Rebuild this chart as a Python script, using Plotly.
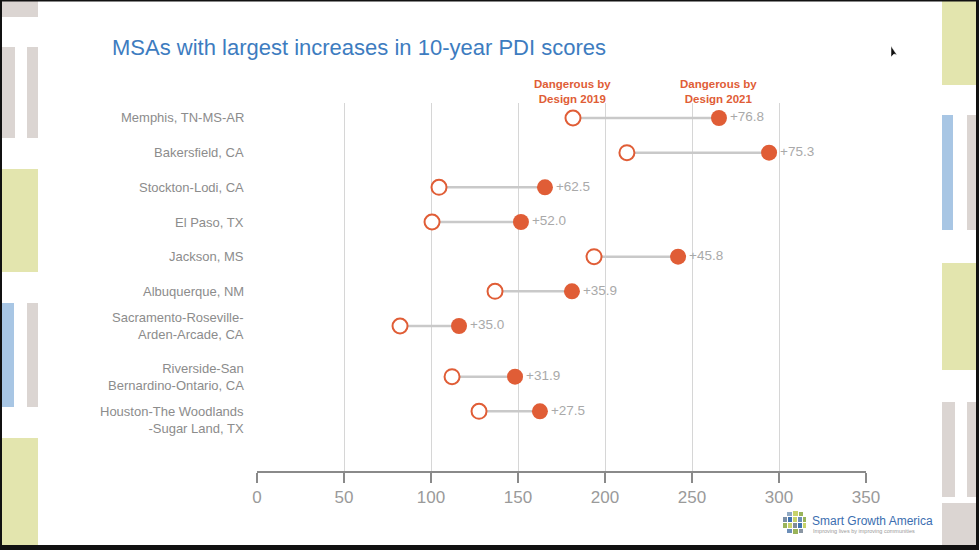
import plotly.graph_objects as go

# ---------------- data ----------------
metros = [
    "Memphis, TN-MS-AR",
    "Bakersfield, CA",
    "Stockton-Lodi, CA",
    "El Paso, TX",
    "Jackson, MS",
    "Albuquerque, NM",
    "Sacramento-Roseville-<br>Arden-Arcade, CA",
    "Riverside-San<br>Bernardino-Ontario, CA",
    "Houston-The Woodlands<br>-Sugar Land, TX",
]
pdi_2019 = [181.6, 212.6, 104.6, 100.6, 193.7, 136.8, 82.2, 112.1, 127.6]
pdi_2021 = [265.5, 294.3, 165.5, 151.7, 242.0, 181.0, 116.1, 148.3, 162.6]
change_labels = ["+76.8", "+75.3", "+62.5", "+52.0", "+45.8", "+35.9", "+35.0", "+31.9", "+27.5"]
x_ticks = [0, 50, 100, 150, 200, 250, 300, 350]
legend_2019 = "Dangerous by<br>Design 2019"
legend_2021 = "Dangerous by<br>Design 2021"
title_text = "MSAs with largest increases in 10-year PDI scores"

# ---------------- layout helpers ----------------
W, H = 979, 550
def px(x):
    return x / W
def py(y):
    return 1 - y / H

ORANGE = "#e05d36"
FONT = "Liberation Sans, Arial, sans-serif"

# row positions (two-line labels at the bottom get a little extra room)
rows = [i + (0.46 if i >= 7 else 0) for i in range(len(metros))]

fig = go.Figure()

# connecting lines
lx, ly = [], []
for a, b, r in zip(pdi_2019, pdi_2021, rows):
    lx += [a, b, None]
    ly += [r, r, None]
fig.add_trace(go.Scatter(x=lx, y=ly, mode="lines",
                         line=dict(color="#c9c9c9", width=2.5),
                         hoverinfo="skip", showlegend=False))
# 2019 open markers
fig.add_trace(go.Scatter(x=pdi_2019, y=rows, mode="markers",
                         marker=dict(size=15, color="white", symbol="circle",
                                     line=dict(color=ORANGE, width=2)),
                         showlegend=False))
# 2021 filled markers + change labels
fig.add_trace(go.Scatter(x=pdi_2021, y=rows, mode="markers+text",
                         text=change_labels, textposition="middle right",
                         textfont=dict(size=13.5, color="#a9a9a9", family=FONT),
                         marker=dict(size=16, color=ORANGE),
                         showlegend=False))

annotations = []
# row labels
for name, r in zip(metros, rows):
    is_houston = name.startswith("Houston")
    annotations.append(dict(
        x=px(246), xref="paper", y=r, yref="y",
        text=name, showarrow=False, xanchor="right",
        yanchor="top" if is_houston else "middle",
        yshift=9 if is_houston else 0,
        align="right", font=dict(size=13, color="#8c8c8c", family=FONT)))
# legend labels
for xv, txt in [(pdi_2019[0], legend_2019), (pdi_2021[0], legend_2021)]:
    annotations.append(dict(
        x=xv, xref="x", y=py(91), yref="paper", text=txt, showarrow=False,
        xanchor="center", yanchor="middle", align="center",
        font=dict(size=11.5, color=ORANGE, family=FONT, weight="bold")))
# title
annotations.append(dict(
    x=px(110), xref="paper", y=py(47), yref="paper", text=title_text,
    showarrow=False, xanchor="left", yanchor="middle",
    font=dict(size=22, color="#3d7cc0", family=FONT)))
# logo texts
annotations.append(dict(
    x=px(810), xref="paper", y=py(521), yref="paper", text="Smart Growth America",
    showarrow=False, xanchor="left", yanchor="middle",
    font=dict(size=12, color="#3b6eb0", family=FONT)))
annotations.append(dict(
    x=px(811), xref="paper", y=py(531), yref="paper",
    text="Improving lives by improving communities",
    showarrow=False, xanchor="left", yanchor="middle",
    font=dict(size=5.5, color="#9a9a9a", family=FONT)))

shapes = []
def rect(x0, y0, x1, y1, color, layer="below"):
    shapes.append(dict(type="rect", xref="paper", yref="paper",
                       x0=px(x0), x1=px(x1), y0=py(y1), y1=py(y0),
                       fillcolor=color, line=dict(width=0), layer=layer))

GRAY, GREEN, BLUE = "#dbd5d2", "#e3e5ae", "#a8c6e4"
# left decoration
rect(0, 0, 38, 17, GRAY)
rect(0, 47, 15, 138, GRAY)
rect(27, 47, 38, 138, GRAY)
rect(0, 169, 38, 272, GREEN)
rect(0, 303, 14, 407, BLUE)
rect(27, 303, 38, 407, GRAY)
rect(0, 438, 38, 550, GREEN)
# right decoration
rect(942, 0, 979, 85, GREEN)
rect(942, 115, 953, 230, BLUE)
rect(967, 115, 979, 230, GRAY)
rect(942, 263, 979, 370, GREEN)
rect(942, 402, 955, 497, GRAY)
rect(967, 402, 979, 497, GRAY)
rect(942, 503, 979, 550, GRAY)

# logo mosaic
logo_cells = [
    (787, 512, 792, 516, "#8fa9c4"), (793, 511, 798, 516, "#c8d36a"), (799, 512, 803, 516, "#9ab45a"),
    (783, 517, 787, 522, "#7a8fa6"), (788, 517, 792, 522, "#3f73b0"), (793, 517, 797, 522, "#c8d36a"),
    (798, 517, 802, 522, "#6d8fb8"), (803, 517, 806, 522, "#9ab45a"),
    (783, 523, 787, 528, "#9ab45a"), (788, 523, 792, 528, "#c8d36a"), (793, 523, 797, 528, "#7f8c99"),
    (798, 523, 802, 528, "#3f73b0"), (803, 523, 806, 528, "#c8d36a"),
    (787, 529, 792, 533, "#6d8fb8"), (793, 529, 798, 534, "#9ab45a"), (799, 529, 803, 533, "#8a96a3"),
]
for x0, y0, x1, y1, c in logo_cells:
    rect(x0, y0, x1, y1, c, layer="above")

# frame
rect(0, 0, 979, 1.5, "#111111", layer="above")
rect(0, 0, 2, 550, "#111111", layer="above")
rect(976, 0, 979, 550, "#111111", layer="above")
rect(0, 545, 979, 550, "#111111", layer="above")

# mouse cursor
shapes.append(dict(type="path", xref="paper", yref="paper",
                   path=f"M {px(891)} {py(46)} L {px(891)} {py(57)} L {px(894)} {py(54)} "
                        f"L {px(897)} {py(55)} Z",
                   fillcolor="#111111", line=dict(color="white", width=0.5), layer="above"))

fig.update_layout(
    width=W, height=H, autosize=False,
    margin=dict(l=0, r=0, t=0, b=0, pad=0, autoexpand=False),
    paper_bgcolor="white", plot_bgcolor="white",
    font=dict(family=FONT),
    xaxis=dict(domain=[px(257), px(866)], range=[0, 350], tickvals=x_ticks,
               showgrid=True, gridcolor="#d6d6d6", gridwidth=1, zeroline=False,
               showline=True, linecolor="#8a8a8a", linewidth=2, automargin=False,
               ticks="outside", ticklen=10, tickwidth=2, tickcolor="#8a8a8a",
               tickfont=dict(size=17, color="#9a9a9a", family=FONT)),
    yaxis=dict(domain=[py(471), py(103)], range=[(471 - 118) / 34.67, -(118 - 103) / 34.67],
               showgrid=False, zeroline=False, showline=False, showticklabels=False,
               automargin=False, ticks=""),
    annotations=annotations,
    shapes=shapes,
    showlegend=False,
)

fig.write_html(
    "out.html",
    config={"responsive": False, "displayModeBar": False},
    post_script="document.body.style.margin='0';document.body.style.overflow='hidden';window.scrollTo(0,0);",
)
